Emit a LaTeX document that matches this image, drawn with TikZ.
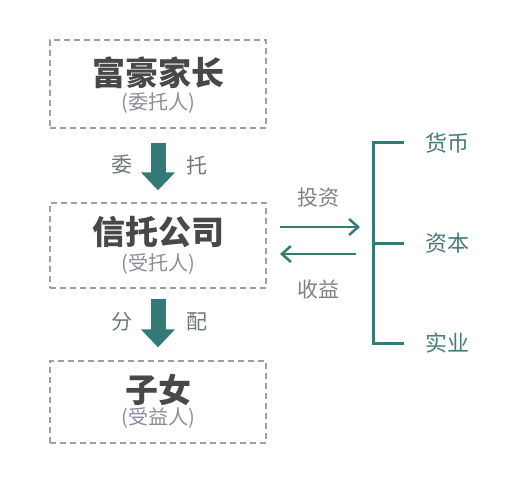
\documentclass[tikz,border=0pt]{standalone}
\usepackage{fontspec}
\newfontfamily\cjk{Noto Sans CJK SC}
\usetikzlibrary{arrows.meta,positioning}
\definecolor{teal1}{HTML}{347B78}
\definecolor{titlegray}{HTML}{484848}
\definecolor{subgray}{HTML}{8C8C9A}
\definecolor{labgray}{HTML}{6E7878}
\definecolor{boxgray}{HTML}{A0A0A0}
\begin{document}
\begin{tikzpicture}[x=1pt, y=-1pt,
    box/.style={draw=boxgray, dash pattern=on 6pt off 4pt, line width=1.3pt, minimum width=216pt},
    title/.style={font=\cjk\bfseries\fontsize{33}{35}\selectfont, text=titlegray, inner sep=0pt},
    sub/.style={font=\cjk\fontsize{20}{22}\selectfont, text=subgray, inner sep=0pt},
    lab/.style={font=\cjk\fontsize{21}{23}\selectfont, text=labgray, inner sep=0pt},
    item/.style={font=\cjk\fontsize{22}{24}\selectfont, text=teal1!80!gray, inner sep=0pt},
    bigarrow/.style={teal1, line width=15pt, -{Triangle[width=33pt,length=18pt]}},
    flow/.style={teal1, line width=2.5pt, -{Straight Barb[length=9pt,width=16pt]}},
    bracket/.style={teal1, line width=3pt}]
    \useasboundingbox (0,0) rectangle (524,481);

    % boxes
    \node[box, minimum height=88pt] (parent) at (158,84) {};
    \node[title] (parentT) at (158,73) {富豪家长};
    \node[sub] (parentS) at (158,103) {(委托人)};
    \node[box, minimum height=85pt] (trustee) at (158,245.5) {};
    \node[title] (trusteeT) at (158,232) {信托公司};
    \node[sub] (trusteeS) at (158,264) {(受托人)};
    \node[box, minimum height=82pt] (child) at (158,402) {};
    \node[title] (childT) at (158,390) {子女};
    \node[sub] (childS) at (158,418) {(受益人)};

    % down arrows
    \draw[bigarrow, shorten <=14pt, shorten >=12pt] (parent.south) -- (trustee.north);
    \node[lab] (entrust1) at (122,165) {委};
    \node[lab] (entrust2) at (197,165) {托};
    \draw[bigarrow, shorten <=10pt, shorten >=13pt] (trustee.south) -- (child.north);
    \node[lab] (share1) at (122,322) {分};
    \node[lab] (share2) at (197,322) {配};

    % assets
    \node[item] (money) at (447,143) {货币};
    \node[item] (capital) at (447,243) {资本};
    \node[item] (industry) at (447,343) {实业};
    \coordinate (top) at (373,143);
    \coordinate (mid) at (373,243);
    \coordinate (bot) at (373,343);
    \draw[bracket] ([xshift=-21pt]money.west) -- (top) -- (bot) -- ([xshift=-21pt]industry.west);
    \draw[bracket] (mid) -- ([xshift=-21pt]capital.west);

    % flows
    \coordinate (out1) at (280,227);
    \coordinate (out2) at (360,227);
    \coordinate (back1) at (356,254);
    \coordinate (back2) at (280,254);
    \draw[flow] (out1) -- (out2);
    \draw[flow] (back1) -- (back2);
    \node[lab, text=gray] (invest) at (318,198) {投资};
    \node[lab, text=gray] (yield) at (318,290) {收益};
\end{tikzpicture}
\end{document}
